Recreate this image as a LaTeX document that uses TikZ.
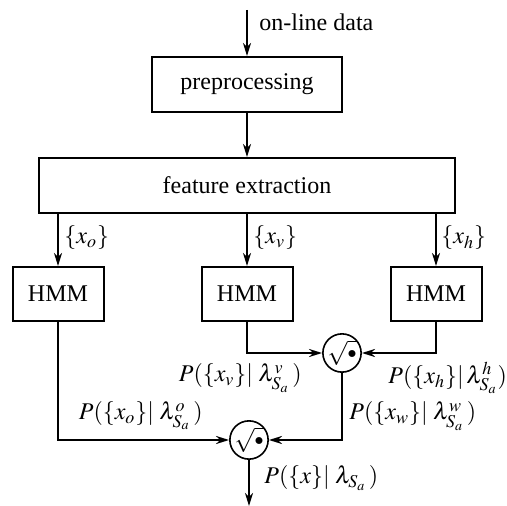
\documentclass[tikz,border=0pt]{standalone}
\usepackage{mathptmx}
\usepackage{fontspec}
\setmainfont{Liberation Serif}
\usetikzlibrary{arrows.meta}
\tikzset{
  box/.style={draw, line width=1pt, inner sep=0pt, font=\fontsize{12}{14}\selectfont},
  comb/.style={draw, circle, line width=0.8pt, minimum size=19pt, inner sep=0pt, font=\fontsize{12}{14}\selectfont},
  lbl/.style={inner sep=0pt, font=\fontsize{12}{14}\selectfont},
  arr/.style={line width=1pt, -{Stealth[length=6.5pt,width=4pt,inset=2pt]}},
  ln/.style={line width=1pt}
}
\begin{document}
\begin{tikzpicture}[x=0.5pt,y=-0.5pt]
\useasboundingbox (0,0) rectangle (507,506);
\coordinate (top) at (247,10);
\node[box, minimum width=95pt, minimum height=27.5pt] (pre) at (247,84.5) {preprocessing};
\node[box, minimum width=208pt, minimum height=27.5pt] (fe) at (247,185.5) {feature extraction};
\node[box, minimum width=45.5pt, minimum height=27pt] (h1) at (58,294) {HMM};
\node[box, minimum width=45.5pt, minimum height=27pt] (h2) at (247,294) {HMM};
\node[box, minimum width=45.5pt, minimum height=27pt] (h3) at (436,294) {HMM};
\node[comb] (c1) at (342,353) {$\sqrt{\scriptstyle\bullet}$};
\node[comb] (c2) at (249,440) {$\sqrt{\scriptstyle\bullet}$};
\coordinate (bot) at (249,506);

\draw[arr] (top) -- (pre);
\draw[arr] (pre) -- (fe);
\draw[arr] (fe.south -| h1) -- (h1);
\draw[arr] (fe) -- (h2);
\draw[arr] (fe.south -| h3) -- (h3);
\draw[arr] (h1.south) |- (c2);
\draw[arr] (h2.south) |- (c1);
\draw[arr] (h3.south) |- (c1);
\draw[arr] (c1.south) |- (c2);
\draw[arr] (c2) -- (bot);

\node[lbl, anchor=west] (ld) at (259,22) {on-line data};
\node[lbl, anchor=west] (lo) at (64,238) {$\{x_o\}$};
\node[lbl, anchor=west] (lv) at (253,238) {$\{x_v\}$};
\node[lbl, anchor=west] (lh) at (441,238) {$\{x_h\}$};
\node[lbl, anchor=east] (pv) at (302,378) {$P(\{x_v\}|\;\lambda^v_{S_a}\,)$};
\node[lbl, anchor=west] (ph) at (388,378) {$P(\{x_h\}|\,\lambda^h_{S_a})$};
\node[lbl, anchor=east] (po) at (203,416) {$P(\{x_o\}|\;\lambda^o_{S_a}\,)$};
\node[lbl, anchor=west] (pw) at (349,416) {$P(\{x_w\}|\;\lambda^w_{S_a}\,)$};
\node[lbl, anchor=west] (px) at (264,478) {$P(\{x\}|\;\lambda_{S_a}\,)$};
\end{tikzpicture}
\end{document}
